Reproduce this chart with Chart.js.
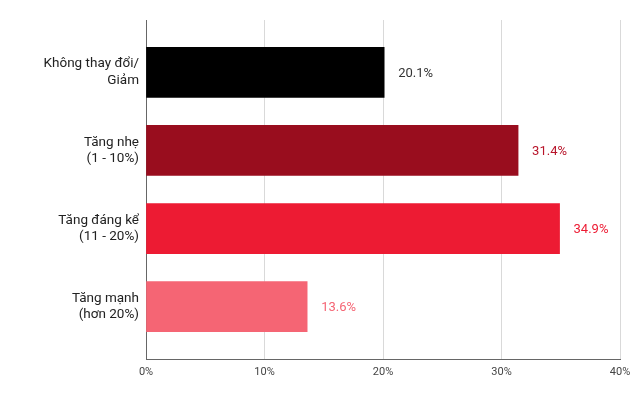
<!DOCTYPE html>
<html>
<head>
<meta charset="utf-8">
<script src="https://cdn.jsdelivr.net/npm/chart.js@4/dist/chart.umd.min.js"></script>
<style>
  html, body { margin: 0; padding: 0; background: #fff; }
  #wrap { width: 640px; height: 398px; }
</style>
</head>
<body>
<div id="wrap"><canvas id="barChart"></canvas></div>
<script>
// Data
const categories = [
    ["Không thay đổi/", "Giảm"],
    ["Tăng nhẹ", "(1 - 10%)"],
    ["Tăng đáng kể", "(11 - 20%)"],
    ["Tăng mạnh", "(hơn 20%)"]
];
const shares = [20.1, 31.4, 34.9, 13.6];
const barColors = ["#000000", "#990d1e", "#ed1b33", "#f56574"];
const labelColors = ["#333333", "#b8142a", "#ed1b33", "#f56574"];
const xTicks = [0, 10, 20, 30, 40];

// Value labels next to each bar
const valueLabels = {
    id: "valueLabels",
    afterDatasetsDraw(chart) {
        const ctx = chart.ctx;
        const meta = chart.getDatasetMeta(0);
        ctx.save();
        ctx.font = "13px Roboto";
        ctx.textAlign = "left";
        ctx.textBaseline = "middle";
        meta.data.forEach((bar, i) => {
            ctx.fillStyle = labelColors[i];
            ctx.fillText(shares[i].toFixed(1) + "%", bar.x + 14, bar.y + 1);
        });
        ctx.restore();
    }
};

const ctx = document.getElementById("barChart").getContext("2d");
new Chart(ctx, {
    type: "bar",
    data: {
        datasets: [{
            data: shares.map((v, i) => ({ x: v, y: i })),
            backgroundColor: barColors,
            borderWidth: 0,
            barThickness: 50
        }]
    },
    options: {
        indexAxis: "y",
        responsive: true,
        maintainAspectRatio: false,
        animation: false,
        layout: { padding: { top: 20, right: 20 } },
        plugins: {
            legend: { display: false },
            tooltip: { enabled: false }
        },
        scales: {
            x: {
                type: "linear",
                min: 0,
                max: 40,
                afterBuildTicks: scale => { scale.ticks = xTicks.map(v => ({ value: v })); },
                afterFit: scale => { scale.height = 39; },
                grid: { color: "#d9d9d9", drawTicks: false },
                border: { color: "#666666", width: 1 },
                ticks: {
                    padding: 7,
                    color: "#444444",
                    font: { family: "Roboto", size: 11 },
                    callback: v => v + "%"
                }
            },
            y: {
                type: "linear",
                reverse: true,
                offset: false,
                min: -0.67,
                max: 3.67,
                afterBuildTicks: scale => { scale.ticks = categories.map((c, i) => ({ value: i })); },
                afterFit: scale => {
                    scale.width = 146;
                    scale.paddingTop = 0;
                    scale.paddingBottom = 0;
                },
                grid: { display: false, drawTicks: false },
                border: { display: true, color: "#666666", width: 1 },
                ticks: {
                    padding: 7,
                    color: "#222222",
                    font: { family: "Roboto", size: 13.5, lineHeight: 1.22 },
                    callback: v => categories[v]
                }
            }
        }
    },
    plugins: [valueLabels]
});
</script>
</body>
</html>
